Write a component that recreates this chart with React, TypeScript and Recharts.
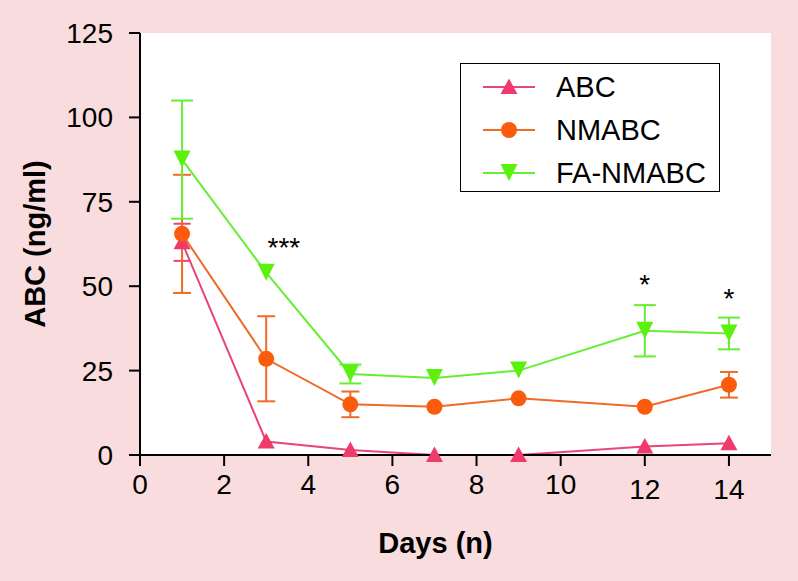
import React from 'react';
import {
    LineChart,
    Line,
    XAxis,
    YAxis,
    CartesianGrid,
    ErrorBar,
    Legend,
    Label,
    ReferenceDot,
} from 'recharts';

// Days sampled
const days = [1, 3, 5, 7, 9, 12, 14];

// ABC concentration (ng/ml) per group, with SD (null = no bar drawn)
const abc = [63, 4, 1.5, 0, 0, 2.5, 3.5];
const abcErr = [5.5, null, null, null, null, null, null];
const nmabc = [65.5, 28.5, 15, 14.3, 16.8, 14.3, 20.8];
const nmabcErr = [17.5, 12.6, 3.8, null, null, null, 3.8];
const faNmabc = [87.5, 54, 24, 22.8, 25, 36.8, 36];
const faNmabcErr = [17.5, null, 2.8, null, null, 7.6, 4.7];

// significance marks
const stars = [
    { day: 3.42, value: 61.5, text: '***' },
    { day: 12, value: 50.7, text: '*' },
    { day: 14, value: 46.6, text: '*' },
];

const xTicks = [0, 2, 4, 6, 8, 10, 12, 14];
const yTicks = [0, 25, 50, 75, 100, 125];

const data = days.map((day, i) => ({
    day,
    abc: abc[i],
    abcErr: abcErr[i],
    nmabc: nmabc[i],
    nmabcErr: nmabcErr[i],
    fa: faNmabc[i],
    faErr: faNmabcErr[i],
}));

const FONT = '"Liberation Sans", Arial, Helvetica, sans-serif';
const PINK = '#ef3a6b';
const ORANGE = '#fb5c0c';
const GREEN = '#5cf00f';

const series = [
    { key: 'abc', err: 'abcErr', name: 'ABC', color: PINK, line: '#e8457a', shape: 'up', cap: 8.5 },
    { key: 'nmabc', err: 'nmabcErr', name: 'NMABC', color: ORANGE, line: '#f06a2a', shape: 'circle', cap: 9 },
    { key: 'fa', err: 'faErr', name: 'FA-NMABC', color: GREEN, line: '#66ee33', shape: 'down', cap: 11 },
];

function Marker({ cx, cy, shape, color }: { cx: number; cy: number; shape: string; color: string }) {
    if (cx == null || cy == null) return null;
    if (shape === 'circle') return <circle cx={cx} cy={cy} r={8} fill={color} />;
    if (shape === 'up') {
        return <path d={`M${cx},${cy - 8.5} L${cx + 8.5},${cy + 7} L${cx - 8.5},${cy + 7} Z`} fill={color} />;
    }
    return <path d={`M${cx},${cy + 8} L${cx + 8.5},${cy - 9} L${cx - 8.5},${cy - 9} Z`} fill={color} />;
}

// x tick labels; the last two sit a bit lower in the original
function XTick({ x, y, payload }: any) {
    const low = payload.value >= 12 ? 5 : 0;
    return (
        <text x={x} y={y + low} dy={20} textAnchor="middle" fill="#000" fontSize={28} fontFamily={FONT}>
            {payload.value}
        </text>
    );
}

function LegendBox() {
    return (
        <div
            style={{
                width: 258,
                height: 127,
                border: '1.5px solid #000',
                background: '#fff',
                boxSizing: 'content-box',
                fontFamily: FONT,
                fontSize: 29,
                color: '#000',
                position: 'relative',
            }}
        >
            {series.map((s, i) => (
                <div
                    key={s.key}
                    style={{ position: 'absolute', left: 22, top: 7 + i * 43, height: 32, display: 'flex', alignItems: 'center' }}
                >
                    <svg width={52} height={20}>
                        <line x1={0} y1={10} x2={52} y2={10} stroke={s.line} strokeWidth={2} />
                        <Marker cx={26} cy={10} shape={s.shape} color={s.color} />
                    </svg>
                    <span style={{ marginLeft: 21, lineHeight: '32px' }}>{s.name}</span>
                </div>
            ))}
        </div>
    );
}

export default function App() {
    return (
        <div style={{ position: 'absolute', left: 0, top: 0, width: 798, height: 581, background: '#f9dcdd', fontFamily: FONT }}>
            <LineChart width={798} height={581} data={data} margin={{ top: 33, right: 27, bottom: 26, left: 10 }}>
                <CartesianGrid horizontal={false} vertical={false} fill="#fff" stroke="none" />
                <XAxis
                    type="number"
                    dataKey="day"
                    domain={[0, 15]}
                    ticks={xTicks}
                    height={100}
                    tickSize={11}
                    tickMargin={8}
                    axisLine={{ stroke: '#000', strokeWidth: 2 }}
                    tickLine={{ stroke: '#000', strokeWidth: 2 }}
                    tick={<XTick />}
                >
                    <Label
                        value="Days (n)"
                        position="insideBottom"
                        offset={2}
                        dx={-20}
                        style={{ fontWeight: 'bold', fontSize: 29, fill: '#000', fontFamily: FONT }}
                    />
                </XAxis>
                <YAxis
                    type="number"
                    domain={[0, 125]}
                    ticks={yTicks}
                    width={130}
                    tickSize={11}
                    tickMargin={16}
                    axisLine={{ stroke: '#000', strokeWidth: 2 }}
                    tickLine={{ stroke: '#000', strokeWidth: 2 }}
                    tick={{ fill: '#000', fontSize: 28, fontFamily: FONT }}
                >
                    <Label
                        value="ABC (ng/ml)"
                        angle={-90}
                        position="insideLeft"
                        offset={25}
                        style={{ textAnchor: 'middle', fontWeight: 'bold', fontSize: 29, fill: '#000', fontFamily: FONT }}
                    />
                </YAxis>
                <Legend
                    layout="vertical"
                    align="center"
                    verticalAlign="middle"
                    wrapperStyle={{ position: 'absolute', left: 460, top: 63, width: 261, height: 130 }}
                    content={() => <LegendBox />}
                />
                {series.map((s) => (
                    <Line
                        key={s.key}
                        type="linear"
                        dataKey={s.key}
                        name={s.name}
                        stroke={s.line}
                        strokeWidth={2}
                        isAnimationActive={false}
                        dot={(p: any) => <Marker key={`${s.key}-${p.index}`} cx={p.cx} cy={p.cy} shape={s.shape} color={s.color} />}
                        activeDot={false}
                    >
                        <ErrorBar dataKey={s.err} direction="y" width={s.cap} stroke={s.line} strokeWidth={2} />
                    </Line>
                ))}
                {stars.map((st, i) => (
                    <ReferenceDot
                        key={i}
                        x={st.day}
                        y={st.value}
                        r={0}
                        fill="none"
                        stroke="none"
                        label={{ value: st.text, position: 'center', fill: '#000', fontSize: 28, fontFamily: FONT }}
                    />
                ))}
            </LineChart>
        </div>
    );
}
